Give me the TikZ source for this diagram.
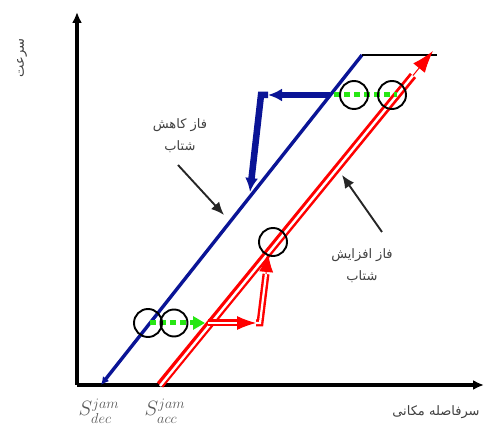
\documentclass[tikz,border=0pt]{standalone}
\usepackage{fontspec}
\newfontfamily\arabicfont[Script=Arabic]{DejaVu Sans}
\TeXXeTstate=1
\usetikzlibrary{arrows.meta}
\definecolor{navy}{RGB}{10,20,150}
\definecolor{gr}{RGB}{40,230,20}
\tikzset{
  axis/.style={line width=3.2pt,-{Latex[length=11pt,width=10pt]}},
  blueln/.style={navy,line width=3.4pt},
  bluethick/.style={navy,line width=6.5pt},
  redouter/.style={red,line width=8pt},
  redinner/.style={white,line width=2.4pt},
  ring/.style={draw=black,line width=1.9pt,circle,minimum size=28pt,inner sep=0pt},
  greend/.style={gr,line width=5pt,dash pattern=on 6pt off 4pt},
  annot/.style={black!85,line width=1.9pt,-{Latex[length=13pt,width=11pt]}},
  fa/.style={font=\arabicfont\fontsize{13}{22}\selectfont,text=black!75,align=center},
  jam/.style={text=black!65,font=\fontsize{21}{24}\selectfont,inner sep=1pt},
}
\begin{document}
\begin{tikzpicture}[x=1pt,y=-1pt]
\useasboundingbox (0,0) rectangle (488,430);
% coordinates
\coordinate (O) at (77,385);
\coordinate (Ytop) at (77,12);
\coordinate (Xend) at (484,385);
\coordinate (B0) at (101,385);
\coordinate (B1) at (362,55);
\coordinate (K1) at (437,55);
\coordinate (R0) at (160,385);
\coordinate (R1) at (433,51);
\coordinate (R1s) at (413,75.5);
% axes
\draw[axis] (O) -- (Ytop);
\draw[axis] (O) -- (Xend);
% blue line
\draw[blueln,-{Latex[length=8pt,width=8pt]}] (B1) -- (B0);
\draw[black,line width=2.8pt] (B1) -- (K1);
% red main double line
\draw[redouter] (R0) -- (R1s);
\draw[redinner] ([yshift=-1pt]R0) -- (R1s);
\draw[red,line width=1pt,-{Latex[length=22pt,width=15pt]}] (R1s) -- (R1);
% top manoeuvre (blue thick arrow)
\coordinate (T0) at (330,95);
\coordinate (Tm) at (268,95);
\coordinate (Tc) at (261,95);
\coordinate (Te) at (250,192);
\draw[bluethick,-{Latex[length=14pt,width=13pt]}] (T0) -- (Tm);
\draw[bluethick,line join=miter,-{Latex[length=14pt,width=13pt]}] (Tm) -- (Tc) -- (Te);
% lower manoeuvre (red double arrow)
\coordinate (L0) at (208,323);
\coordinate (Lm) at (238,323);
\coordinate (Lh) at (256,323);
\coordinate (Lc) at (260,323);
\coordinate (Lu) at (266,274);
\coordinate (Le) at (268,253);
\draw[redouter,line width=7pt] (L0) -- (Lm);
\draw[redinner,line width=2.2pt] (L0) -- (Lm);
\draw[red,line width=1pt,-{Latex[length=19pt,width=14pt]}] (Lm) -- (Lh);
\draw[redouter,line width=7pt,line join=miter] (Lh) -- (Lc) -- (Lu);
\draw[redinner,line width=2.2pt,line join=miter] (Lh) -- (Lc) -- (Lu);
\draw[red,line width=1pt,-{Latex[length=19pt,width=14pt]}] (Lu) -- (Le);
% green dashed
\coordinate (G0) at (150,323);
\coordinate (G1) at (205,323);
\draw[greend,-{Triangle[length=12pt,width=13pt]}] (G0) -- (G1);
\coordinate (G2) at (334,95);
\coordinate (G3) at (397,95);
\draw[greend] (G2) -- (G3);
% circles
\node[ring] (c1) at (148,323) {};
\node[ring,minimum size=27pt] (c2) at (174,323) {};
\node[ring] (c3) at (354,95) {};
\node[ring] (c4) at (392,95) {};
\node[ring] (c5) at (273,242) {};
% labels
\node[fa] (dec) at (180,136) {\beginR فاز کاهش\endR\\\beginR شتاب\endR};
\node[fa] (acc) at (362,266) {\beginR فاز افزایش\endR\\\beginR شتاب\endR};
\coordinate (a1s) at (178,165);
\coordinate (a1e) at (224,215);
\draw[annot] (a1s) -- (a1e);
\coordinate (a2s) at (382,232);
\coordinate (a2e) at (342,175);
\draw[annot] (a2s) -- (a2e);
\node[fa] (xl) at (436,412) {\beginR سرفاصله مکانی\endR};
\node[fa,rotate=90] (yl) at (22,58) {\beginR سرعت\endR};
\node[jam] (sd) at (99,411) {$S^{jam}_{\raisebox{-2pt}{$\scriptstyle dec$}}$};
\node[jam] (sa) at (165,411) {$S^{jam}_{\raisebox{-2pt}{$\scriptstyle acc$}}$};
\end{tikzpicture}
\end{document}
